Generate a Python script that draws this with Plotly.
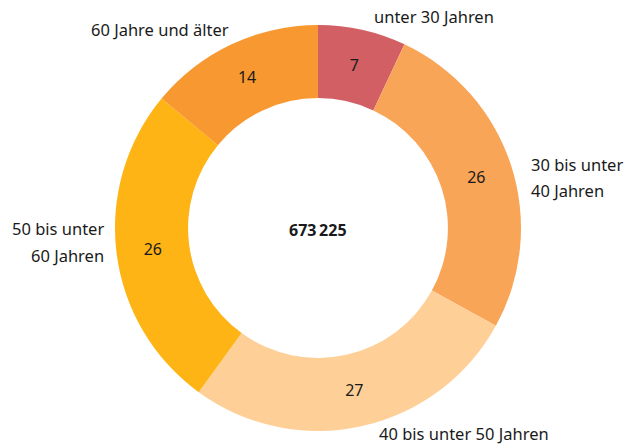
import plotly.graph_objects as go

categories = ["unter 30 Jahren", "30 bis unter 40 Jahren", "40 bis unter 50 Jahren",
              "50 bis unter 60 Jahren", "60 Jahre und älter"]
values = [7, 26, 27, 26, 14]
total_label = "673\u2009225"
colors = ["#d15f63", "#f9a558", "#fed098", "#fdb414", "#f79930"]

W, H = 625, 444
cx, cy, R = 318, 228, 203

fig = go.Figure(go.Pie(
    labels=categories,
    values=values,
    text=[str(v) for v in values],
    textinfo="text",
    textposition="inside",
    insidetextorientation="horizontal",
    textfont=dict(family="Noto Sans", size=16, color="#1a1a1a"),
    marker=dict(colors=colors, line=dict(width=0)),
    hole=0.64,
    sort=False,
    direction="clockwise",
    rotation=0,
    hoverinfo="label+value",
    domain=dict(x=[(cx - R) / W, (cx + R) / W], y=[1 - (cy + R) / H, 1 - (cy - R) / H]),
    showlegend=False,
))

def px(x):
    return x / W

def py(y):
    return 1 - y / H

lab_font = dict(family="Noto Sans", size=16.5, color="#1a1a1a")
ann = [
    # (text, x, y, xanchor)
    ("unter 30 Jahren", 372, 17, "left"),
    ("30 bis unter", 529, 164, "left"),
    ("40 Jahren", 529, 190, "left"),
    ("40 bis unter 50 Jahren", 377, 433, "left"),
    ("50 bis unter", 106, 228, "right"),
    ("60 Jahren", 106, 255, "right"),
    ("60 Jahre und älter", 89, 30, "left"),
]
annotations = [dict(text=t, x=px(x), y=py(y), xref="paper", yref="paper",
                    xanchor=a, yanchor="middle", showarrow=False, font=lab_font)
               for t, x, y, a in ann]
annotations.append(dict(text="<b>" + total_label + "</b>", x=px(cx), y=py(230),
                        xref="paper", yref="paper", xanchor="center", yanchor="middle",
                        showarrow=False, font=dict(family="Noto Sans", size=16, color="#1a1a1a")))

fig.update_layout(
    width=W, height=H,
    margin=dict(l=0, r=0, t=0, b=0),
    paper_bgcolor="white", plot_bgcolor="white",
    annotations=annotations,
)

fig.write_html("out.html", config={"displayModeBar": False},
               post_script="document.body.style.margin='0';document.body.style.padding='0';")
